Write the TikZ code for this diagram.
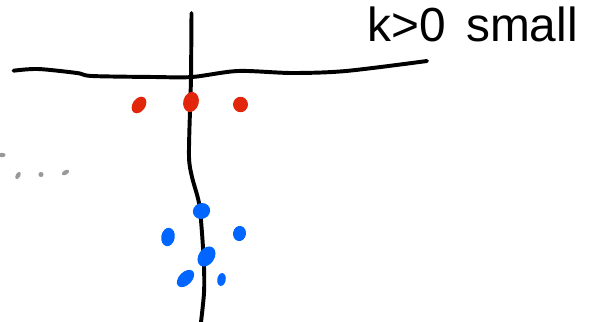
\documentclass[tikz,border=0pt]{standalone}
\usepackage{fontspec}
\setmainfont{Liberation Sans}
\usepackage{tikz}
\usepackage{xcolor}
\definecolor{dotred}{RGB}{226,38,12}
\definecolor{dotblue}{RGB}{0,102,255}
\definecolor{dotgray}{RGB}{153,153,153}
\tikzset{
    axis/.style={draw=black, line width=2.8pt, line cap=round, line join=round},
    reddot/.style={fill=dotred},
    bluedot/.style={fill=dotblue},
    graydot/.style={fill=dotgray},
    caption/.style={font=\fontsize{34}{38}\selectfont, inner sep=0pt}
}

\begin{document}
\begin{tikzpicture}[x=0.025cm, y=-0.025cm]
    \useasboundingbox (0,0) rectangle (598,322);
    % axes
    \draw[axis] plot[smooth] coordinates {(13.5,70.7) (38,69) (77,73) (92,76) (154,77) (192,77) (238,71) (292,73) (346,71) (427,61)};
    \draw[axis] plot[smooth] coordinates {(191.5,13) (191,77) (190,110) (189,157) (192,177) (199,203) (202,233) (204,267) (204,293) (201,322)};
    \node[caption, anchor=base west] (label) at (367,41) {k>0\hspace{0.15em} small};
    % red dots
    \fill[reddot] (139,105) ellipse [x radius=4.5pt, y radius=6.5pt, rotate=-35];
    \fill[reddot] (191,102) ellipse [x radius=5.5pt, y radius=7.2pt, rotate=-15];
    \fill[reddot] (240.5,104.5) ellipse [x radius=5.3pt, y radius=5.5pt];
    % gray dots
    \fill[graydot] (2,155) ellipse [x radius=2.6pt, y radius=1.6pt];
    \fill[graydot] (18,175.5) ellipse [x radius=1.6pt, y radius=2.8pt, rotate=-30];
    \fill[graydot] (41,174.5) ellipse [x radius=1.8pt, y radius=1.8pt];
    \fill[graydot] (65.5,172.5) ellipse [x radius=2.8pt, y radius=1.6pt, rotate=30];
    % blue dots
    \fill[bluedot] (201.5,211) ellipse [x radius=6.2pt, y radius=5.6pt, rotate=20];
    \fill[bluedot] (168,237) ellipse [x radius=4.8pt, y radius=6.6pt, rotate=-10];
    \fill[bluedot] (239.5,233.5) ellipse [x radius=4.6pt, y radius=5.4pt, rotate=-10];
    \fill[bluedot] (206.5,256.5) ellipse [x radius=5.6pt, y radius=7.8pt, rotate=-35];
    \fill[bluedot] (185.5,278.5) ellipse [x radius=4.6pt, y radius=7.4pt, rotate=-45];
    \fill[bluedot] (221.5,279.5) ellipse [x radius=3pt, y radius=4.6pt, rotate=-10];
\end{tikzpicture}
\end{document}
